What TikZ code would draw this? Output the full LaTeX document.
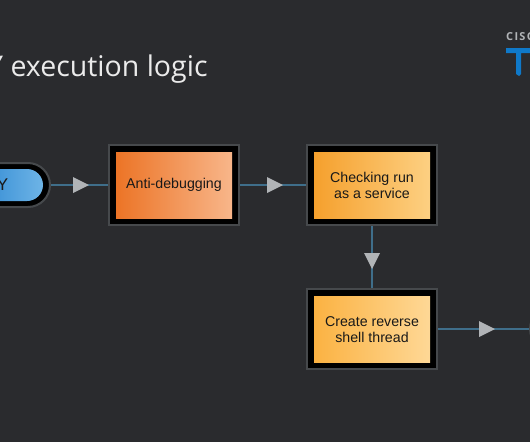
\documentclass[tikz,border=0pt]{standalone}
\usepackage{fontspec}
\setmainfont{Liberation Sans}
\newfontfamily\titlefont{Open Sans}
\newfontfamily\logofont{Open Sans}
\definecolor{bg}{HTML}{2A2B2E}
\definecolor{edgegray}{HTML}{46494C}
\definecolor{linkblue}{HTML}{3F6E8A}
\definecolor{trigray}{HTML}{B1B4B7}
\definecolor{logoblue}{HTML}{0F79C9}
\tikzset{
  x=1pt,y=-1pt,
  outerbox/.style={draw=edgegray,line width=2pt,fill=black,minimum width=130pt,minimum height=80pt,inner sep=0pt,outer sep=1pt},
  outerpill/.style={draw=edgegray,line width=2pt,fill=black,rounded corners=22pt,minimum width=100pt,minimum height=44pt,inner sep=0pt,outer sep=1pt},
  innerbox/.style={minimum width=116pt,minimum height=66pt,inner sep=0pt,align=center,font=\fontsize{14.2}{16}\selectfont,text=black!90},
  link/.style={draw=linkblue,line width=2pt},
  tri/.pic={\fill[trigray] (-8,-8) -- (8,0) -- (-8,8) -- cycle;}
}
\begin{document}
\begin{tikzpicture}
\useasboundingbox (0,0) rectangle (530,442);
\fill[bg] (0,0) rectangle (530,442);
\clip (0,0) rectangle (530,442);
% title
\node[anchor=base west,inner sep=0pt,text=white!92!black,font=\titlefont\fontsize{28.5}{34}\selectfont] (title) at (-13,76) {Y execution logic};
% logo
\node[anchor=base west,inner sep=0pt,text=trigray,font=\logofont\bfseries\fontsize{11}{12}\selectfont] (logotext) at (506,40) {\addfontfeature{LetterSpace=12}CISCO};
\fill[logoblue] (506,48) -- (536,48) -- (536,53) -- (521,53) -- (521,74) -- (519,76) -- (516,74) -- (516,53) -- (506,53) -- cycle;
% nodes
\node[outerbox] (antiO) at (174,185) {};
\node[outerbox] (checkO) at (372,185) {};
\node[outerbox] (shellO) at (372,329) {};
\node[outerpill] (startO) at (0,185) {};
\node[outerpill] (endO) at (580,329) {};
\node[innerbox,left color={rgb,255:red,236;green,116;blue,38},right color={rgb,255:red,248;green,182;blue,138}] (anti) at (174,185) {Anti-debugging};
\node[innerbox,left color={rgb,255:red,245;green,160;blue,45},right color={rgb,255:red,253;green,208;blue,130}] (check) at (372,185.5) {Checking run\\as a service};
\node[innerbox,left color={rgb,255:red,251;green,178;blue,66},right color={rgb,255:red,254;green,216;blue,150}] (shell) at (372,329.5) {Create reverse\\shell thread};
\node[rounded corners=16pt,minimum width=86pt,minimum height=32pt,inner sep=0pt,left color={rgb,255:red,30;green,125;blue,205},right color={rgb,255:red,110;green,180;blue,230},text=black!90,font=\fontsize{17}{18}\selectfont] (start) at (0,185) {\hspace*{5pt}Y};
% connectors
\draw[link] (startO) -- (antiO);
\draw[link] (antiO) -- (checkO);
\draw[link] (checkO) -- (shellO);
\draw[link] (shellO) -- (endO);
\pic at (81,185) {tri};
\pic at (275,185) {tri};
\pic[rotate=-90] at (372,261) {tri};
\pic at (487,329) {tri};
\end{tikzpicture}
\end{document}
